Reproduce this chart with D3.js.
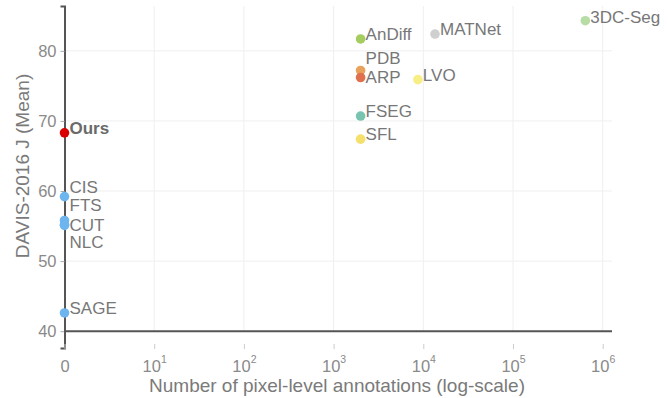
<!DOCTYPE html>
<html>
  <head>
    <meta charset="utf-8">
    <title>DAVIS-2016</title>
    <script src="https://d3js.org/d3.v7.min.js"></script>
    <style>
      body { margin: 0; background: white; }
      text { font-family: 'Liberation Sans', Arial, sans-serif; }
      .grid line { stroke: #efefef; stroke-width: 1; }
      .tick-lbl { fill: #8a8a8a; font-size: 16.5px; }
      .title { fill: #7a7a7a; font-size: 19px; }
      .lbl { fill: #777; font-size: 17px; }
    </style>
  </head>
  <body>
    <script>
      // methods, annotation counts (0 = unsupervised), J mean
      var methods = ['Ours', 'CIS', 'FTS', 'CUT', 'NLC', 'SAGE', 'AnDiff', 'PDB', 'ARP', 'LVO', 'FSEG', 'SFL', 'MATNet', '3DC-Seg'];
      var annotations = [0, 0, 0, 0, 0, 0, 2000, 2000, 2000, 8700, 2000, 2000, 13500, 640000];
      var jMean = [68.3, 59.2, 55.8, 55.2, 55.1, 42.6, 81.7, 77.2, 76.2, 75.9, 70.7, 67.4, 82.4, 84.3];
      var colors = ['#d90000', '#6db5ef', '#6db5ef', '#6db5ef', '#6db5ef', '#6db5ef', '#a5cc5e', '#e9a25c', '#df714f', '#f7ee86', '#79c3b1', '#f4e06a', '#cfcfcf', '#b7dca6'];
      // label nudges (repelled text)
      var nudgeY = [-5, -10, -15, 0, 17, -5, -5, -12, 0, -5, -5, -5, -5, -4];

      var yTicks = [40, 50, 60, 70, 80];
      var xTicks = [1, 10, 100, 1000, 10000, 100000, 1000000];

      var W = 668, H = 398;
      var svg = d3.select('body').append('svg').attr('width', W).attr('height', H);

      var x = d3.scaleLog().domain([1, 1e6]).range([64.5, 602.7]);
      var y = d3.scaleLinear().domain([37.6, 86.4]).range([348, 6]);
      var right = 612;

      // grid
      var grid = svg.append('g').attr('class', 'grid');
      grid.selectAll('.h').data(yTicks.slice(1)).enter().append('line')
        .attr('x1', 64).attr('x2', right)
        .attr('y1', function(d){ return y(d) }).attr('y2', function(d){ return y(d) });
      grid.selectAll('.v').data(xTicks.slice(1)).enter().append('line')
        .attr('x1', function(d){ return x(d) }).attr('x2', function(d){ return x(d) })
        .attr('y1', y(86.4)).attr('y2', y(40));

      // y axis
      var yAxis = svg.append('g').attr('transform', 'translate(64.5,0)')
        .call(d3.axisLeft(y).tickValues(yTicks).tickSize(4).tickPadding(4));
      yAxis.select('.domain').attr('stroke', '#555').attr('stroke-width', 2);
      yAxis.selectAll('.tick line').attr('stroke', '#aaa');
      yAxis.selectAll('.tick text').attr('class', 'tick-lbl').attr('font-size', null).attr('font-family', null);

      // x axis (ticks below the baseline)
      var xAxis = svg.append('g').attr('transform', 'translate(0,344)')
        .call(d3.axisBottom(x).tickValues(xTicks).tickSize(5).tickFormat(''));
      xAxis.select('.domain').remove();
      xAxis.selectAll('.tick line').attr('stroke', '#ccc');
      xAxis.selectAll('.tick').each(function(d){
        var t = d3.select(this).append('text').attr('class', 'tick-lbl').attr('y', 28)
          .attr('text-anchor', 'middle').attr('fill', '#999');
        if (d === 1) { t.text('0'); }
        else {
          t.append('tspan').text('10');
          t.append('tspan').attr('dy', -9).attr('font-size', 10.5).text(Math.round(Math.log10(d)));
        }
      });

      // baseline at 40
      svg.append('line').attr('x1', 64).attr('x2', right)
        .attr('y1', y(40)).attr('y2', y(40))
        .attr('stroke', '#555').attr('stroke-width', 2);

      var data = methods.map(function(m, i){
        return { name: m, n: annotations[i], j: jMean[i], c: colors[i], dy: nudgeY[i] };
      });
      function px(d){ return x(Math.max(d.n, 1)) }

      svg.selectAll('circle').data(data).enter().append('circle')
        .attr('cx', px).attr('cy', function(d){ return y(d.j) })
        .attr('r', 4.8).attr('fill', function(d){ return d.c });

      svg.selectAll('.lbl').data(data).enter().append('text')
        .attr('class', 'lbl')
        .attr('x', function(d){ return px(d) + 5 })
        .attr('y', function(d){ return y(d.j) + d.dy })
        .attr('dy', '0.35em')
        .attr('font-weight', function(d){ return d.name === 'Ours' ? 'bold' : null })
        .style('fill', function(d){ return d.name === 'Ours' ? '#6a6a6a' : null })
        .text(function(d){ return d.name });

      // titles
      svg.append('text').attr('class', 'title').attr('text-anchor', 'middle')
        .attr('x', 337).attr('y', 392).text('Number of pixel-level annotations (log-scale)');
      svg.append('text').attr('class', 'title').attr('text-anchor', 'middle')
        .attr('transform', 'translate(29,166) rotate(-90)').text('DAVIS-2016 J (Mean)');
    </script>
  </body>
</html>
